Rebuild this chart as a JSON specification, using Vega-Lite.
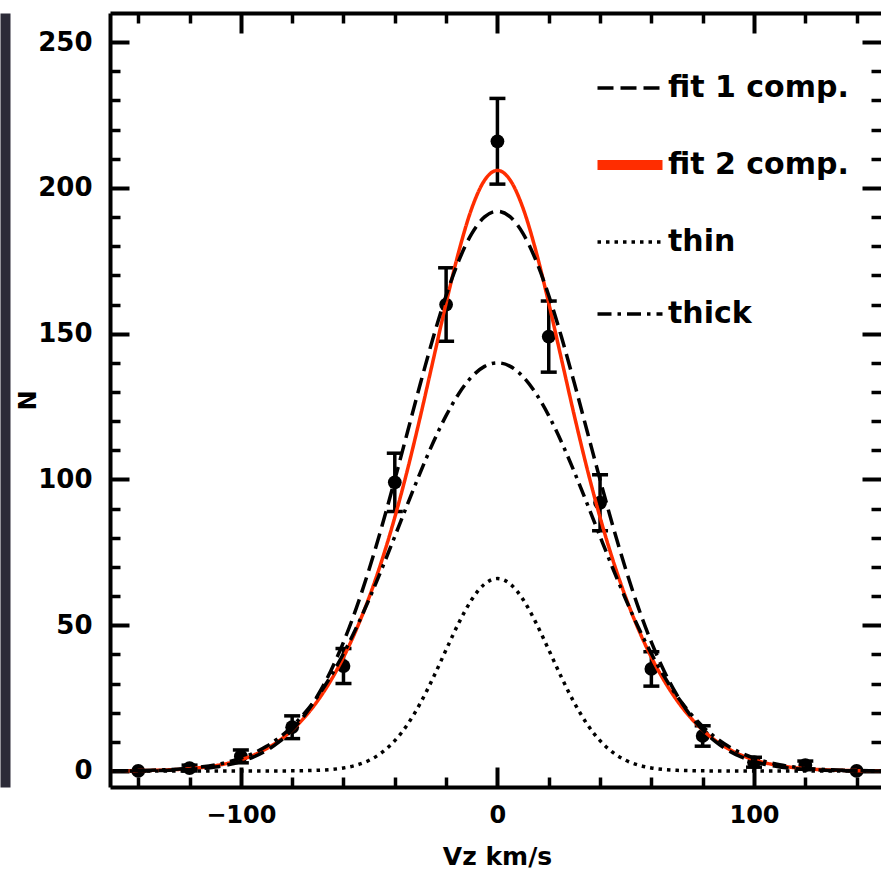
{
  "$schema": "https://vega.github.io/schema/vega-lite/v6.json",
  "width": 771,
  "height": 774,
  "autosize": {"type": "none"},
  "padding": {"left": 110, "top": 13, "right": 0, "bottom": 85},
  "background": "white",
  "config": {
    "view": {"stroke": null},
    "font": "DejaVu Sans",
    "axis": {
      "grid": false,
      "domainColor": "black",
      "tickColor": "black",
      "labelColor": "black",
      "titleColor": "black",
      "labelFont": "DejaVu Sans",
      "titleFont": "DejaVu Sans",
      "labelFontWeight": "bold",
      "titleFontWeight": "bold"
    }
  },
  "datasets": {
    "curves": [
      {"v": -150, "f1": 0.02, "f2": 0.04, "thin": 0, "thick": 0.06},
      {"v": -145, "f1": 0.04, "f2": 0.07, "thin": 0, "thick": 0.10},
      {"v": -140, "f1": 0.06, "f2": 0.12, "thin": 0, "thick": 0.16},
      {"v": -135, "f1": 0.11, "f2": 0.20, "thin": 0, "thick": 0.25},
      {"v": -130, "f1": 0.19, "f2": 0.32, "thin": 0, "thick": 0.40},
      {"v": -125, "f1": 0.33, "f2": 0.51, "thin": 0, "thick": 0.63},
      {"v": -120, "f1": 0.54, "f2": 0.79, "thin": 0, "thick": 0.96},
      {"v": -115, "f1": 0.87, "f2": 1.21, "thin": 0, "thick": 1.44},
      {"v": -110, "f1": 1.37, "f2": 1.81, "thin": 0, "thick": 2.12},
      {"v": -105, "f1": 2.13, "f2": 2.66, "thin": 0, "thick": 3.08},
      {"v": -100, "f1": 3.24, "f2": 3.85, "thin": 0, "thick": 4.39},
      {"v": -95, "f1": 4.82, "f2": 5.46, "thin": 0, "thick": 6.15},
      {"v": -90, "f1": 7.04, "f2": 7.62, "thin": 0.01, "thick": 8.47},
      {"v": -85, "f1": 10.06, "f2": 10.44, "thin": 0.02, "thick": 11.47},
      {"v": -80, "f1": 14.09, "f2": 14.06, "thin": 0.04, "thick": 15.27},
      {"v": -75, "f1": 19.33, "f2": 18.58, "thin": 0.10, "thick": 19.97},
      {"v": -70, "f1": 25.98, "f2": 24.17, "thin": 0.23, "thick": 25.66},
      {"v": -65, "f1": 34.23, "f2": 30.94, "thin": 0.50, "thick": 32.42},
      {"v": -60, "f1": 44.17, "f2": 39.00, "thin": 1.03, "thick": 40.25},
      {"v": -55, "f1": 55.85, "f2": 48.50, "thin": 2.00, "thick": 49.12},
      {"v": -50, "f1": 69.20, "f2": 59.56, "thin": 3.67, "thick": 58.91},
      {"v": -45, "f1": 84.01, "f2": 72.35, "thin": 6.36, "thick": 69.44},
      {"v": -40, "f1": 99.93, "f2": 87.00, "thin": 10.39, "thick": 80.45},
      {"v": -35, "f1": 116.45, "f2": 103.54, "thin": 16.02, "thick": 91.60},
      {"v": -30, "f1": 132.97, "f2": 121.77, "thin": 23.33, "thick": 102.51},
      {"v": -25, "f1": 148.77, "f2": 141.10, "thin": 32.05, "thick": 112.76},
      {"v": -20, "f1": 163.08, "f2": 160.48, "thin": 41.57, "thick": 121.89},
      {"v": -15, "f1": 175.15, "f2": 178.37, "thin": 50.89, "thick": 129.51},
      {"v": -10, "f1": 184.32, "f2": 193.00, "thin": 58.80, "thick": 135.23},
      {"v": -5, "f1": 190.05, "f2": 202.64, "thin": 64.12, "thick": 138.79},
      {"v": 0, "f1": 192.00, "f2": 206.00, "thin": 66.00, "thick": 140.00},
      {"v": 5, "f1": 190.05, "f2": 202.64, "thin": 64.12, "thick": 138.79},
      {"v": 10, "f1": 184.32, "f2": 193.00, "thin": 58.80, "thick": 135.23},
      {"v": 15, "f1": 175.15, "f2": 178.37, "thin": 50.89, "thick": 129.51},
      {"v": 20, "f1": 163.08, "f2": 160.48, "thin": 41.57, "thick": 121.89},
      {"v": 25, "f1": 148.77, "f2": 141.10, "thin": 32.05, "thick": 112.76},
      {"v": 30, "f1": 132.97, "f2": 121.77, "thin": 23.33, "thick": 102.51},
      {"v": 35, "f1": 116.45, "f2": 103.54, "thin": 16.02, "thick": 91.60},
      {"v": 40, "f1": 99.93, "f2": 87.00, "thin": 10.39, "thick": 80.45},
      {"v": 45, "f1": 84.01, "f2": 72.35, "thin": 6.36, "thick": 69.44},
      {"v": 50, "f1": 69.20, "f2": 59.56, "thin": 3.67, "thick": 58.91},
      {"v": 55, "f1": 55.85, "f2": 48.50, "thin": 2.00, "thick": 49.12},
      {"v": 60, "f1": 44.17, "f2": 39.00, "thin": 1.03, "thick": 40.25},
      {"v": 65, "f1": 34.23, "f2": 30.94, "thin": 0.50, "thick": 32.42},
      {"v": 70, "f1": 25.98, "f2": 24.17, "thin": 0.23, "thick": 25.66},
      {"v": 75, "f1": 19.33, "f2": 18.58, "thin": 0.10, "thick": 19.97},
      {"v": 80, "f1": 14.09, "f2": 14.06, "thin": 0.04, "thick": 15.27},
      {"v": 85, "f1": 10.06, "f2": 10.44, "thin": 0.02, "thick": 11.47},
      {"v": 90, "f1": 7.04, "f2": 7.62, "thin": 0.01, "thick": 8.47},
      {"v": 95, "f1": 4.82, "f2": 5.46, "thin": 0, "thick": 6.15},
      {"v": 100, "f1": 3.24, "f2": 3.85, "thin": 0, "thick": 4.39},
      {"v": 105, "f1": 2.13, "f2": 2.66, "thin": 0, "thick": 3.08},
      {"v": 110, "f1": 1.37, "f2": 1.81, "thin": 0, "thick": 2.12},
      {"v": 115, "f1": 0.87, "f2": 1.21, "thin": 0, "thick": 1.44},
      {"v": 120, "f1": 0.54, "f2": 0.79, "thin": 0, "thick": 0.96},
      {"v": 125, "f1": 0.33, "f2": 0.51, "thin": 0, "thick": 0.63},
      {"v": 130, "f1": 0.19, "f2": 0.32, "thin": 0, "thick": 0.40},
      {"v": 135, "f1": 0.11, "f2": 0.20, "thin": 0, "thick": 0.25},
      {"v": 140, "f1": 0.06, "f2": 0.12, "thin": 0, "thick": 0.16},
      {"v": 145, "f1": 0.04, "f2": 0.07, "thin": 0, "thick": 0.10},
      {"v": 150, "f1": 0.02, "f2": 0.04, "thin": 0, "thick": 0.06}
    ],
    "points": [
      {"v": -140, "n": 0, "lo": 0, "hi": 0},
      {"v": -120, "n": 1, "lo": 0, "hi": 2},
      {"v": -100, "n": 5, "lo": 2.8, "hi": 7.2},
      {"v": -80, "n": 15, "lo": 11.1, "hi": 18.9},
      {"v": -60, "n": 36, "lo": 30, "hi": 42},
      {"v": -40, "n": 99, "lo": 89, "hi": 109},
      {"v": -20, "n": 160, "lo": 147.4, "hi": 172.6},
      {"v": 0, "n": 216, "lo": 201.3, "hi": 230.7},
      {"v": 20, "n": 149, "lo": 136.8, "hi": 161.2},
      {"v": 40, "n": 92, "lo": 82.4, "hi": 101.6},
      {"v": 60, "n": 35, "lo": 29.1, "hi": 40.9},
      {"v": 80, "n": 12, "lo": 8.5, "hi": 15.5},
      {"v": 100, "n": 3, "lo": 1.3, "hi": 4.7},
      {"v": 120, "n": 2, "lo": 0.6, "hi": 3.4},
      {"v": 140, "n": 0, "lo": 0, "hi": 0}
    ]
  },
  "layer": [
    {
      "data": {"name": "points"},
      "mark": {"type": "rule", "color": "black", "strokeWidth": 3.5},
      "encoding": {
        "x": {"field": "v", "type": "quantitative", "scale": {"domain": [-151, 149.5], "nice": false, "zero": false},
          "axis": {"orient": "bottom", "values": [-140, -120, -80, -60, -40, -20, 20, 40, 60, 80, 120, 140], "tickSize": -10, "tickWidth": 3.5, "domain": false, "labels": false, "title": null}},
        "y": {"field": "lo", "type": "quantitative", "scale": {"domain": [-5.5, 260], "nice": false, "zero": false},
          "axis": {"orient": "left", "values": [10, 20, 30, 40, 60, 70, 80, 90, 110, 120, 130, 140, 160, 170, 180, 190, 210, 220, 230, 240], "tickSize": -10, "tickWidth": 3.5, "domain": false, "labels": false, "title": null}},
        "y2": {"field": "hi"}
      }
    },
    {
      "data": {"name": "points"},
      "mark": {"type": "tick", "orient": "horizontal", "size": 16, "thickness": 3.5, "color": "black", "opacity": 1},
      "encoding": {
        "x": {"field": "v", "type": "quantitative", "scale": {"domain": [-151, 149.5], "nice": false, "zero": false},
          "axis": {"orient": "top", "values": [-140, -120, -80, -60, -40, -20, 20, 40, 60, 80, 120, 140], "tickSize": -10, "tickWidth": 3.5, "domain": false, "labels": false, "title": null}},
        "y": {"field": "lo", "type": "quantitative", "scale": {"domain": [-5.5, 260], "nice": false, "zero": false},
          "axis": {"orient": "right", "values": [10, 20, 30, 40, 60, 70, 80, 90, 110, 120, 130, 140, 160, 170, 180, 190, 210, 220, 230, 240], "tickSize": -10, "tickWidth": 3.5, "domain": false, "labels": false, "title": null}}
      }
    },
    {
      "data": {"name": "points"},
      "mark": {"type": "tick", "orient": "horizontal", "size": 16, "thickness": 3.5, "color": "black", "opacity": 1},
      "encoding": {
        "x": {"field": "v", "type": "quantitative", "scale": {"domain": [-151, 149.5], "nice": false, "zero": false},
          "axis": {"orient": "top", "values": [-100, 0, 100], "tickSize": -20, "tickWidth": 4, "domain": true, "domainWidth": 4, "labels": false, "title": null}},
        "y": {"field": "hi", "type": "quantitative", "scale": {"domain": [-5.5, 260], "nice": false, "zero": false},
          "axis": {"orient": "right", "values": [0, 50, 100, 150, 200, 250], "tickSize": -19, "tickWidth": 4, "domain": false, "labels": false, "title": null}}
      }
    },
    {
      "data": {"name": "points"},
      "mark": {"type": "circle", "size": 190, "color": "black", "opacity": 1},
      "encoding": {
        "x": {"field": "v", "type": "quantitative", "scale": {"domain": [-151, 149.5], "nice": false, "zero": false}, "axis": null},
        "y": {"field": "n", "type": "quantitative", "scale": {"domain": [-5.5, 260], "nice": false, "zero": false},
          "axis": {"orient": "left", "offset": 105, "domain": true, "domainWidth": 10, "domainColor": "#2c2b38", "ticks": false, "labels": false, "title": null}}
      }
    },
    {
      "data": {"name": "curves"},
      "transform": [{"fold": ["f2", "f1", "thin", "thick"], "as": ["comp", "n"]}],
      "mark": {"type": "line", "strokeWidth": 3.5, "interpolate": "monotone"},
      "encoding": {
        "x": {"field": "v", "type": "quantitative", "scale": {"domain": [-151, 149.5], "nice": false, "zero": false},
          "axis": {"orient": "bottom", "values": [-100, 0, 100], "tickSize": -20, "tickWidth": 4, "domain": true, "domainWidth": 4, "labelFontSize": 24, "labelPadding": 36,
            "title": "Vz km/s", "titleFontSize": 25, "titleX": 387, "titleY": 69, "titleBaseline": "middle", "titleAlign": "center"}},
        "y": {"field": "n", "type": "quantitative", "scale": {"domain": [-5.5, 260], "nice": false, "zero": false},
          "axis": {"orient": "left", "values": [0, 50, 100, 150, 200, 250], "tickSize": -19, "tickWidth": 4, "domain": true, "domainWidth": 4, "labelFontSize": 26, "labelPadding": 37,
            "title": "N", "titleFontSize": 24, "titleX": -82, "titleY": 387, "titleBaseline": "middle", "titleAlign": "center"}},
        "color": {"field": "comp", "type": "nominal",
          "scale": {"domain": ["f1", "f2", "thin", "thick"], "range": ["black", "#ff2d00", "black", "black"]},
          "legend": {"orient": "none", "legendX": 483, "legendY": 60, "title": null, "padding": 0,
            "symbolType": "stroke", "symbolSize": 4225, "symbolStrokeWidth": 3.5, "symbolOffset": 22,
            "labelFontSize": 30, "labelFont": "DejaVu Sans", "labelFontWeight": "bold", "labelColor": "black", "labelOffset": 23, "labelLimit": 400, "rowPadding": 42,
            "labelExpr": "{'f1': 'fit 1 comp.', 'f2': 'fit 2 comp.', 'thin': 'thin', 'thick': 'thick'}[datum.label]",
            "encode": {"symbols": {"update": {"strokeWidth": {"signal": "datum.value === 'f2' ? 10 : 3.5"}}}}}},
        "strokeDash": {"field": "comp", "type": "nominal",
          "scale": {"domain": ["f1", "f2", "thin", "thick"], "range": [[16, 7], [1, 0], [3.5, 5], [14, 6, 3.5, 6]]}}
      }
    }
  ],
  "resolve": {"axis": {"x": "independent", "y": "independent"}}
}
